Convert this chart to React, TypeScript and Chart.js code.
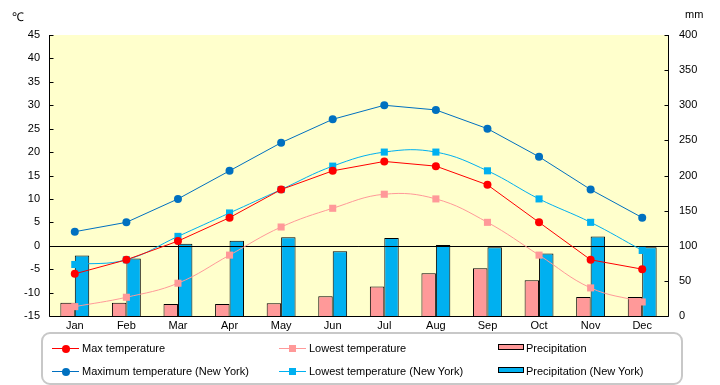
import React, { useEffect, useRef } from "react";
import { Chart, registerables } from "chart.js";

Chart.register(...registerables);

const months = ["Jan", "Feb", "Mar", "Apr", "May", "Jun", "Jul", "Aug", "Sep", "Oct", "Nov", "Dec"];
const maxTemp = [-6, -3, 1, 6, 12, 16, 18, 17, 13, 5, -3, -5];
const lowTemp = [-13, -11, -8, -2, 4, 8, 11, 10, 5, -2, -9, -12];
const maxTempNY = [3, 5, 10, 16, 22, 27, 30, 29, 25, 19, 12, 6];
const lowTempNY = [-4, -3, 2, 7, 12, 17, 20, 20, 16, 10, 5, -1];
const precip = [19, 19, 17, 17, 18, 28, 42, 61, 68, 51, 27, 27];
const precipNY = [86, 82, 103, 107, 112, 92, 111, 101, 98, 89, 113, 98];

const FONT = "'Liberation Sans', Arial, sans-serif";

const framePlugin = {
  id: "frame",
  beforeDatasetsDraw(chart: any) {
    const { ctx, chartArea: a } = chart;
    ctx.save();
    ctx.fillStyle = "#FFFFCC";
    ctx.fillRect(a.left, a.top, a.right - a.left, a.bottom - a.top);
    ctx.restore();
  },
  afterDatasetDraw(chart: any, args: any) {
    if (chart.data.datasets[args.index].type !== "bar") return;
    const { ctx, chartArea: a } = chart;
    const y0 = Math.round(chart.scales.y.getPixelForValue(0)) + 0.5;
    ctx.save();
    ctx.strokeStyle = "#000";
    ctx.lineWidth = 1;
    ctx.beginPath();
    ctx.moveTo(a.left, y0);
    ctx.lineTo(a.right, y0);
    ctx.stroke();
    ctx.restore();
  },
  afterDraw(chart: any) {
    const { ctx, chartArea: a } = chart;
    const L = Math.round(a.left) + 0.5;
    const R = Math.round(a.right) + 0.5;
    const B = Math.round(a.bottom) + 0.5;
    const T = Math.round(a.top);
    ctx.save();
    ctx.strokeStyle = "#000";
    ctx.lineWidth = 1;
    ctx.beginPath();
    ctx.moveTo(L, T);
    ctx.lineTo(L, B);
    ctx.lineTo(R, B);
    ctx.lineTo(R, T);
    const ys = chart.scales.y;
    ys.ticks.forEach((t: any) => {
      const py = Math.round(ys.getPixelForValue(t.value)) + 0.5;
      ctx.moveTo(L, py);
      ctx.lineTo(L + 4, py);
    });
    const y1 = chart.scales.y1;
    y1.ticks.forEach((t: any) => {
      const py = Math.round(y1.getPixelForValue(t.value)) + 0.5;
      ctx.moveTo(R - 4, py);
      ctx.lineTo(R, py);
    });
    ctx.stroke();
    ctx.restore();
  },
};

function LegendItem(props: { left: number; top: number; kind: string; color: string; label: string }) {
  const { left, top, kind, color, label } = props;
  let marker: React.ReactNode;
  if (kind === "bar") {
    marker = (
      <div style={{ position: "absolute", left: 0, top: -4, width: 24, height: 4, background: color, border: "1px solid #000" }} />
    );
  } else {
    marker = (
      <>
        <div style={{ position: "absolute", left: 0, top: 0, width: 27, height: 1, background: color }} />
        <div
          style={{
            position: "absolute",
            left: kind === "circle" ? 9.5 : 10,
            top: -3.5,
            width: kind === "circle" ? 8 : 7,
            height: kind === "circle" ? 8 : 7,
            borderRadius: kind === "circle" ? "50%" : 0,
            background: color,
          }}
        />
      </>
    );
  }
  const textLeft = kind === "bar" ? 28 : 30;
  return (
    <div style={{ position: "absolute", left, top }}>
      {marker}
      <div
        style={{
          position: "absolute",
          left: textLeft,
          top: -8,
          whiteSpace: "nowrap",
          fontFamily: FONT,
          fontSize: 11,
          lineHeight: "16px",
          color: "#000",
        }}
      >
        {label}
      </div>
    </div>
  );
}

export default function App() {
  const ref = useRef<HTMLCanvasElement | null>(null);

  useEffect(() => {
    if (!ref.current) return;
    const lineBase = { type: "line" as const, yAxisID: "y", order: 1, borderWidth: 1, fill: false };
    const chart = new Chart(ref.current, {
      type: "bar",
      data: {
        labels: months,
        datasets: [
          {
            ...lineBase,
            label: "Max temperature",
            data: maxTemp,
            borderColor: "#FF0000",
            backgroundColor: "#FF0000",
            pointStyle: "circle",
            pointRadius: 4,
            pointBorderWidth: 0,
            tension: 0,
          },
          {
            ...lineBase,
            label: "Lowest temperature",
            data: lowTemp,
            borderColor: "#FF9999",
            backgroundColor: "#FF9999",
            pointStyle: "rect",
            pointRadius: 5,
            pointBorderWidth: 0,
            tension: 0.4,
          },
          {
            ...lineBase,
            label: "Maximum temperature (New York)",
            data: maxTempNY,
            borderColor: "#0070C0",
            backgroundColor: "#0070C0",
            pointStyle: "circle",
            pointRadius: 4,
            pointBorderWidth: 0,
            tension: 0,
          },
          {
            ...lineBase,
            label: "Lowest temperature (New York)",
            data: lowTempNY,
            borderColor: "#00B0F0",
            backgroundColor: "#00B0F0",
            pointStyle: "rect",
            pointRadius: 5,
            pointBorderWidth: 0,
            tension: 0.4,
          },
          {
            type: "bar",
            label: "Precipitation",
            data: precip,
            yAxisID: "y1",
            order: 2,
            backgroundColor: "#FF9999",
            borderColor: "#000000",
            borderWidth: 1,
            categoryPercentage: 0.56,
            barPercentage: 1.0,
          },
          {
            type: "bar",
            label: "Precipitation (New York)",
            data: precipNY,
            yAxisID: "y1",
            order: 2,
            backgroundColor: "#00B0F0",
            borderColor: "#000000",
            borderWidth: 1,
            categoryPercentage: 0.56,
            barPercentage: 1.0,
          },
        ] as any,
      },
      options: {
        responsive: false,
        maintainAspectRatio: false,
        animation: false,
        devicePixelRatio: 1,
        layout: { padding: { top: 35, left: 0, right: 0, bottom: 0 } },
        plugins: {
          legend: { display: false },
          tooltip: { enabled: false },
          title: { display: false },
        },
        scales: {
          x: {
            grid: { display: false, drawTicks: false },
            border: { display: false },
            ticks: { color: "#000", font: { family: FONT, size: 11 }, padding: 3, maxRotation: 0, autoSkip: false },
            afterFit: (s: any) => {
              s.height = 69;
            },
          },
          y: {
            position: "left",
            min: -15,
            max: 45,
            grid: { display: false, drawTicks: false },
            border: { display: false },
            ticks: { stepSize: 5, color: "#000", font: { family: FONT, size: 11 }, padding: 9 },
            afterFit: (s: any) => {
              s.width = 49;
            },
          },
          y1: {
            position: "right",
            min: 0,
            max: 400,
            grid: { display: false, drawTicks: false },
            border: { display: false },
            ticks: { stepSize: 50, color: "#000", font: { family: FONT, size: 11 }, padding: 11 },
            afterFit: (s: any) => {
              s.width = 52;
            },
          },
        },
      } as any,
      plugins: [framePlugin],
    });
    return () => chart.destroy();
  }, []);

  return (
    <div style={{ position: "absolute", left: 0, top: 0, width: 720, height: 385, background: "#fff", overflow: "hidden" }}>
      <canvas ref={ref} width={720} height={385} style={{ position: "absolute", left: 0, top: 0, width: 720, height: 385 }} />
      <div style={{ position: "absolute", left: 12, top: 8, fontFamily: FONT, fontSize: 12, color: "#000" }}>℃</div>
      <div style={{ position: "absolute", left: 685, top: 8, fontFamily: FONT, fontSize: 11, color: "#000" }}>mm</div>
      <div
        style={{
          position: "absolute",
          left: 41,
          top: 332,
          width: 638,
          height: 49,
          border: "2px solid #C8C8C8",
          borderRadius: 9,
          boxSizing: "content-box",
        }}
      />
      <LegendItem left={52} top={348} kind="circle" color="#FF0000" label="Max temperature" />
      <LegendItem left={52} top={371} kind="circle" color="#0070C0" label="Maximum temperature (New York)" />
      <LegendItem left={279} top={348} kind="rect" color="#FF9999" label="Lowest temperature" />
      <LegendItem left={279} top={371} kind="rect" color="#00B0F0" label="Lowest temperature (New York)" />
      <LegendItem left={498} top={348} kind="bar" color="#FF9999" label="Precipitation" />
      <LegendItem left={498} top={371} kind="bar" color="#00B0F0" label="Precipitation (New York)" />
    </div>
  );
}
